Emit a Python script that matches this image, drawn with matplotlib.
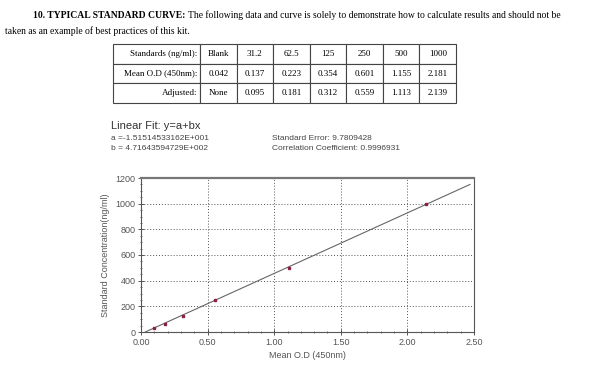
"""
Typical standard curve: data table plus linear fit of concentration vs adjusted OD.
"""

import matplotlib
matplotlib.use("Agg")
import matplotlib.pyplot as plt
from matplotlib.ticker import MultipleLocator, FormatStrFormatter

# ── data ──────────────────────────────────────────────────────────────────────
col_labels = ["Blank", "31.2", "62.5", "125", "250", "500", "1000"]
mean_od_text = ["0.042", "0.137", "0.223", "0.354", "0.601", "1.155", "2.181"]
adjusted_text = ["None", "0.095", "0.181", "0.312", "0.559", "1.113", "2.139"]

standards = [31.2, 62.5, 125, 250, 500, 1000]
adjusted = [0.095, 0.181, 0.312, 0.559, 1.113, 2.139]

fit_a = -1.51514533162E+001
fit_b = 4.71643594729E+002
fit_x = [0.032, 2.47]

SERIF = ["Liberation Serif", "DejaVu Serif"]
SANS = ["Liberation Sans", "DejaVu Sans"]
GRAY = "#555555"

fig = plt.figure(figsize=(6, 3.81), dpi=100)
renderer = fig.canvas.get_renderer()

# ── heading text ──────────────────────────────────────────────────────────────
head = fig.text(33 / 600, 1 - 15 / 381, "10. TYPICAL STANDARD CURVE:", family=SERIF,
                fontsize=6.9, fontweight="bold", va="center", ha="left")
head_end = head.get_window_extent(renderer).x1
fig.text((head_end + 3) / 600, 1 - 15 / 381,
         "The following data and curve is solely to demonstrate how to calculate "
         "results and should not be",
         family=SERIF, fontsize=6.9, va="center", ha="left")
fig.text(5 / 600, 1 - 31 / 381, "taken as an example of best practices of this kit.",
         family=SERIF, fontsize=6.9, va="center", ha="left")

# ── table ─────────────────────────────────────────────────────────────────────
tab_ax = fig.add_axes([113 / 600, 1 - 103 / 381, (456 - 113) / 600, (103 - 44) / 381])
tab_ax.axis("off")
cells = [["Standards (ng/ml):"] + col_labels,
         ["Mean O.D (450nm):"] + mean_od_text,
         ["Adjusted:"] + adjusted_text]
widths = [87] + [36.6] * 7
tbl = tab_ax.table(cellText=cells, cellLoc="center", bbox=[0, 0, 1, 1],
                   colWidths=[w / sum(widths) for w in widths])
tbl.auto_set_font_size(False)
for (r, c), cell in tbl.get_celld().items():
    cell.set_edgecolor("#444444")
    cell.set_linewidth(0.8)
    cell.get_text().set_fontfamily(SERIF)
    cell.get_text().set_fontsize(6.5)
    if c == 0:
        cell.get_text().set_ha("right")
        cell._loc = "right"
        cell.PAD = 0.03

# ── fit annotation ────────────────────────────────────────────────────────────
fig.text(111 / 600, 1 - 126 / 381, "Linear Fit: y=a+bx", family=SANS,
         fontsize=8, color="#333333", va="center")
fig.text(111 / 600, 1 - 138 / 381, "a =-1.51514533162E+001", family=SANS,
         fontsize=6, color="#444444", va="center")
fig.text(111 / 600, 1 - 149 / 381, "b = 4.71643594729E+002", family=SANS,
         fontsize=6, color="#444444", va="center")
fig.text(272 / 600, 1 - 138 / 381, "Standard Error: 9.7809428", family=SANS,
         fontsize=6, color="#444444", va="center")
fig.text(272 / 600, 1 - 149 / 381, "Correlation Coefficient: 0.9996931", family=SANS,
         fontsize=6, color="#444444", va="center")

# ── plot ──────────────────────────────────────────────────────────────────────
ax = fig.add_axes([141 / 600, 1 - 332 / 381, (474 - 141) / 600, (332 - 178) / 381])
ax.plot(fit_x, [fit_a + fit_b * x for x in fit_x], color="#666666", linewidth=0.8)
ax.plot(adjusted, standards, linestyle="none", marker="s", markersize=1.8,
        color="#8b2040")

ax.set_xlim(0, 2.5)
ax.set_ylim(0, 1200)
ax.xaxis.set_major_locator(MultipleLocator(0.5))
ax.xaxis.set_minor_locator(MultipleLocator(0.1))
ax.yaxis.set_major_locator(MultipleLocator(200))
ax.yaxis.set_minor_locator(MultipleLocator(50))
ax.xaxis.set_major_formatter(FormatStrFormatter("%.2f"))
ax.grid(True, which="major", linestyle=(0, (1, 2)), color="#555555", linewidth=0.7)

for side in ["left", "bottom", "right"]:
    ax.spines[side].set_color(GRAY)
    ax.spines[side].set_linewidth(0.8)
ax.spines["top"].set_color("#777777")
ax.spines["top"].set_linewidth(1.6)

ax.tick_params(which="major", direction="inout", length=4, width=0.7,
               color=GRAY, labelcolor=GRAY, labelsize=6.5, pad=2)
ax.tick_params(which="minor", direction="inout", length=2, width=0.6, color=GRAY)
for lbl in ax.get_xticklabels() + ax.get_yticklabels():
    lbl.set_fontfamily(SANS)

ax.set_xlabel("Mean O.D (450nm)", family=SANS, fontsize=6.5, color=GRAY, labelpad=3)
ax.set_ylabel("Standard Concentration(ng/ml)", family=SANS, fontsize=6.5,
              color=GRAY, labelpad=4)

fig.savefig("out.png", dpi=100)
